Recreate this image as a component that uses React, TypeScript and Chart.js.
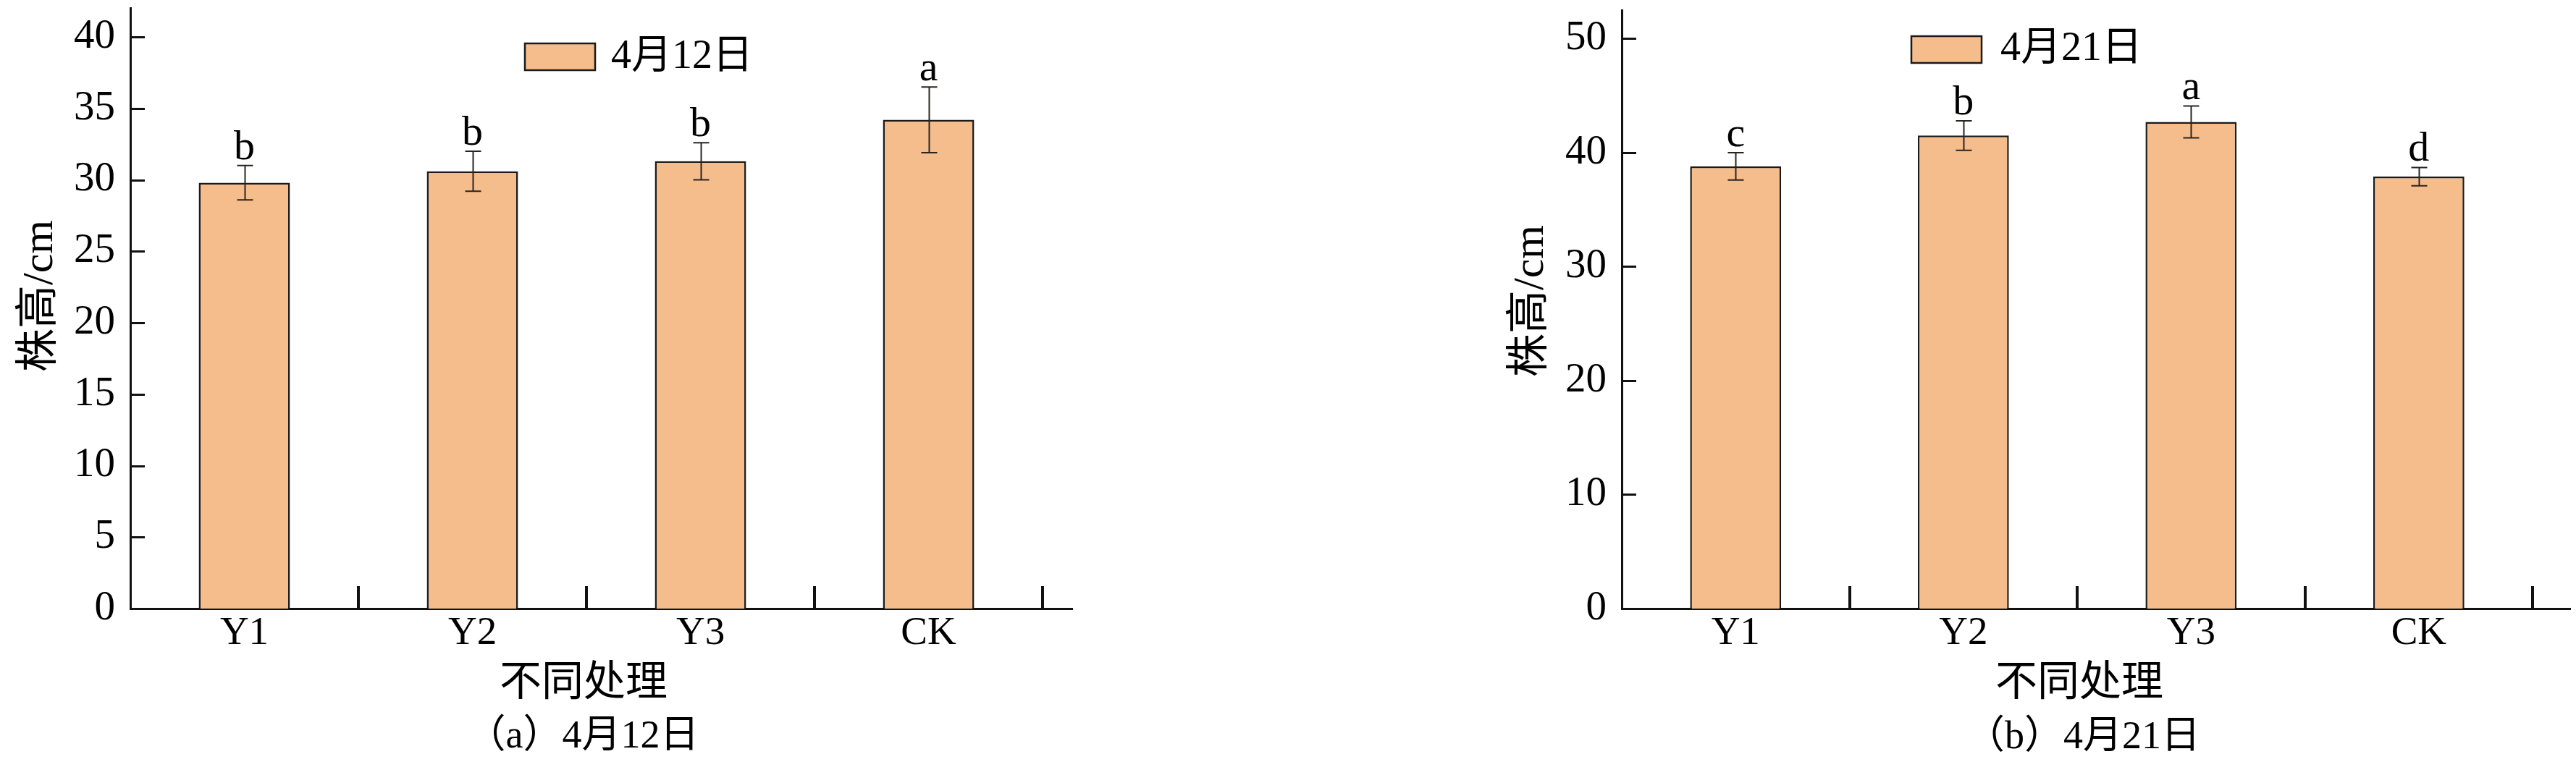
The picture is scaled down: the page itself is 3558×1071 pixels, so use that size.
import React, { useEffect, useRef } from 'react';
import { Chart, registerables } from 'chart.js';

Chart.register(...registerables);

// ---------- data ----------
const categories = ['Y1', 'Y2', 'Y3', 'CK'];
const categoryPositions = [0.5, 1.5, 2.5, 3.5];
const groupBoundaries = [1, 2, 3, 4];

const seriesLabelA = '4月12日';
const valuesA = [29.8, 30.6, 31.3, 34.2];
const errorsA = [1.2, 1.4, 1.3, 2.3];
const lettersA = ['b', 'b', 'b', 'a'];
const yTicksA = [0, 5, 10, 15, 20, 25, 30, 35, 40];
const yMaxA = 42;
const captionA = '（a）4月12日';

const seriesLabelB = '4月21日';
const valuesB = [38.8, 41.5, 42.7, 37.9];
const errorsB = [1.2, 1.3, 1.4, 0.8];
const lettersB = ['c', 'b', 'a', 'd'];
const yTicksB = [0, 10, 20, 30, 40, 50];
const yMaxB = 52.5;
const captionB = '（b）4月21日';

const yTitleText = '株高/cm';
const xTitleText = '不同处理';

// ---------- styles ----------
const SERIF = "'Liberation Serif', 'Noto Sans CJK SC', serif";
const BAR_FILL = '#F5BD8C';
const BAR_EDGE = '#1a1a1a';
const AXIS = '#111111';

type Layout = {
  canvasW: number;
  canvasH: number;
  areaLeft: number;
  areaRight: number;
  areaTop: number;
  areaBottom: number;
  xMax: number;
  yTitle: [number, number];
  xTitle: [number, number];
  caption: [number, number];
  legendBox: [number, number, number, number];
  legendTextX: number;
  legendTextY: number;
};

const decorPlugin = {
  id: 'decor',
  afterDraw(chart: any, _args: any, o: any) {
    const { ctx, chartArea: ca } = chart;
    const xs = chart.scales.x;
    const ys = chart.scales.y;
    const meta = chart.getDatasetMeta(0);
    const ds = chart.data.datasets[0];
    const L: Layout = o.layout;
    ctx.save();

    // inner ticks on x axis (group boundaries)
    ctx.strokeStyle = AXIS;
    ctx.lineWidth = 4;
    o.boundaries.forEach((b: number) => {
      const px = Math.round(xs.getPixelForValue(b));
      ctx.beginPath();
      ctx.moveTo(px, ca.bottom);
      ctx.lineTo(px, ca.bottom - 31);
      ctx.stroke();
    });
    // inner ticks on y axis
    ctx.lineWidth = 3;
    ys.ticks.forEach((t: any) => {
      if (t.value === 0) return;
      const py = Math.round(ys.getPixelForValue(t.value)) + 0.5;
      ctx.beginPath();
      ctx.moveTo(ca.left, py);
      ctx.lineTo(ca.left + 20, py);
      ctx.stroke();
    });

    // error bars + letters
    ctx.strokeStyle = '#2a2420';
    ctx.lineWidth = 2;
    ctx.fillStyle = '#000';
    ctx.font = `58px ${SERIF}`;
    ctx.textAlign = 'center';
    ctx.textBaseline = 'alphabetic';
    meta.data.forEach((bar: any, i: number) => {
      const v = ds.data[i].y;
      const e = o.errors[i];
      const cx = Math.round(bar.x) + 0.5;
      const yt = ys.getPixelForValue(v + e);
      const yb = ys.getPixelForValue(v - e);
      ctx.beginPath();
      ctx.moveTo(cx, yt);
      ctx.lineTo(cx, yb);
      ctx.moveTo(cx - 11, yt);
      ctx.lineTo(cx + 11, yt);
      ctx.moveTo(cx - 11, yb);
      ctx.lineTo(cx + 11, yb);
      ctx.stroke();
      ctx.fillText(o.letters[i], bar.x, yt - 9);
    });

    // legend
    const [bx, by, bw, bh] = L.legendBox;
    ctx.fillStyle = ds.backgroundColor;
    ctx.fillRect(bx, by, bw, bh);
    ctx.strokeStyle = BAR_EDGE;
    ctx.lineWidth = 2.5;
    ctx.strokeRect(bx, by, bw, bh);
    ctx.fillStyle = '#000';
    ctx.font = `56px ${SERIF}`;
    ctx.textAlign = 'left';
    ctx.textBaseline = 'middle';
    ctx.fillText(ds.label, L.legendTextX, L.legendTextY);

    // x title and caption
    ctx.textAlign = 'center';
    ctx.font = `58px ${SERIF}`;
    ctx.fillText(o.xTitle, L.xTitle[0], L.xTitle[1]);
    ctx.font = `54px ${SERIF}`;
    ctx.fillText(o.caption, L.caption[0], L.caption[1]);

    // y title (rotated)
    ctx.save();
    ctx.translate(L.yTitle[0], L.yTitle[1]);
    ctx.rotate(-Math.PI / 2);
    ctx.font = `60px ${SERIF}`;
    ctx.textAlign = 'center';
    ctx.textBaseline = 'middle';
    ctx.fillText(o.yTitle, 0, 0);
    ctx.restore();

    ctx.restore();
  },
};

type PanelProps = {
  label: string;
  values: number[];
  errors: number[];
  letters: string[];
  yTicks: number[];
  yMax: number;
  caption: string;
  layout: Layout;
};

function BarPanel(p: PanelProps) {
  const ref = useRef<HTMLCanvasElement | null>(null);
  useEffect(() => {
    if (!ref.current) return;
    const L = p.layout;
    const chart = new Chart(ref.current, {
      type: 'bar',
      data: {
        datasets: [
          {
            label: p.label,
            data: categoryPositions.map((x, i) => ({ x, y: p.values[i] })),
            backgroundColor: BAR_FILL,
            borderColor: BAR_EDGE,
            borderWidth: 2.5,
            barPercentage: 0.5,
            categoryPercentage: 0.8,
          } as any,
        ],
      },
      options: {
        responsive: false,
        animation: false,
        devicePixelRatio: 1,
        layout: {
          padding: {
            left: 0,
            top: L.areaTop,
            right: L.canvasW - L.areaRight,
            bottom: 0,
          },
        },
        plugins: {
          legend: { display: false },
          title: { display: false },
          tooltip: { enabled: false },
          decor: {
            layout: L,
            errors: p.errors,
            letters: p.letters,
            boundaries: groupBoundaries,
            xTitle: xTitleText,
            yTitle: yTitleText,
            caption: p.caption,
          },
        } as any,
        scales: {
          x: {
            type: 'linear',
            min: 0,
            max: L.xMax,
            offset: false,
            grid: { display: false, drawTicks: false },
            border: { display: true, color: AXIS, width: 3 },
            ticks: {
              color: '#000',
              padding: 2,
              font: { family: SERIF, size: 55 },
              maxRotation: 0,
              autoSkip: false,
              callback: (_v: any, i: number) => categories[i],
            },
            afterBuildTicks: (s: any) => {
              s.ticks = categoryPositions.map((v) => ({ value: v }));
            },
            afterFit: (s: any) => {
              s.height = L.canvasH - L.areaBottom;
              s.paddingLeft = 0;
              s.paddingRight = 0;
            },
          },
          y: {
            type: 'linear',
            min: 0,
            max: p.yMax,
            grid: { display: false, drawTicks: false },
            border: { display: true, color: AXIS, width: 3 },
            ticks: {
              color: '#000',
              padding: 21,
              font: { family: SERIF, size: 57 },
            },
            afterBuildTicks: (s: any) => {
              s.ticks = p.yTicks.map((v) => ({ value: v }));
            },
            afterFit: (s: any) => {
              s.width = L.areaLeft;
              s.paddingTop = 0;
              s.paddingBottom = 0;
            },
          },
        } as any,
      },
      plugins: [decorPlugin as any],
    });
    return () => chart.destroy();
  }, []);
  return (
    <canvas
      ref={ref}
      width={p.layout.canvasW}
      height={p.layout.canvasH}
      style={{ display: 'block' }}
    />
  );
}

const layoutA: Layout = {
  canvasW: 1760,
  canvasH: 1071,
  areaLeft: 180,
  areaRight: 1481,
  areaTop: 11.5,
  areaBottom: 841,
  xMax: 4.13,
  yTitle: [56, 409],
  xTitle: [806, 946],
  caption: [805, 1019],
  legendBox: [725, 60, 97, 37],
  legendTextX: 844,
  legendTextY: 79,
};

const layoutB: Layout = {
  canvasW: 1498,
  canvasH: 1071,
  areaLeft: 180,
  areaRight: 1490,
  areaTop: 14.1,
  areaBottom: 841,
  xMax: 4.165,
  yTitle: [55, 416],
  xTitle: [812, 946],
  caption: [817, 1020],
  legendBox: [580, 50, 97, 37],
  legendTextX: 703,
  legendTextY: 68,
};

export default function App() {
  return (
    <div
      style={{
        position: 'absolute',
        left: 0,
        top: 0,
        width: 3558,
        height: 1071,
        background: '#fff',
        overflow: 'hidden',
      }}
    >
      <div style={{ position: 'absolute', left: 0, top: 0 }}>
        <BarPanel
          label={seriesLabelA}
          values={valuesA}
          errors={errorsA}
          letters={lettersA}
          yTicks={yTicksA}
          yMax={yMaxA}
          caption={captionA}
          layout={layoutA}
        />
      </div>
      <div style={{ position: 'absolute', left: 2060, top: 0 }}>
        <BarPanel
          label={seriesLabelB}
          values={valuesB}
          errors={errorsB}
          letters={lettersB}
          yTicks={yTicksB}
          yMax={yMaxB}
          caption={captionB}
          layout={layoutB}
        />
      </div>
    </div>
  );
}
